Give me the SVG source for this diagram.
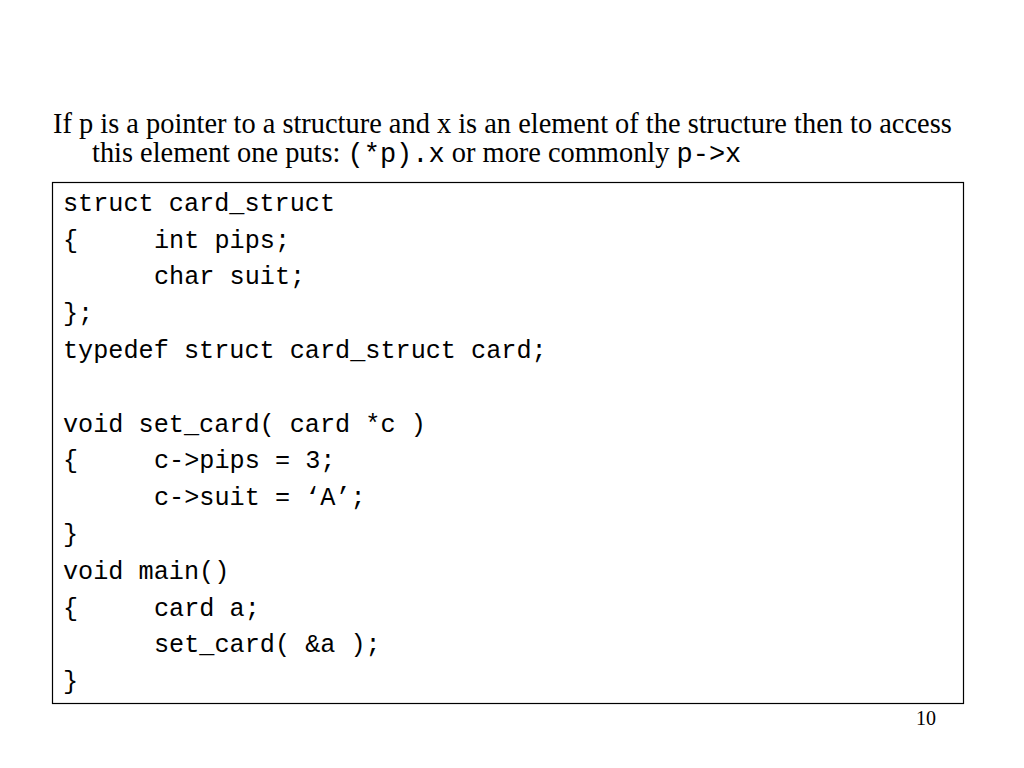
<svg xmlns="http://www.w3.org/2000/svg" width="1024" height="768" viewBox="0 0 1024 768">
<style>
.t{font-family:"Liberation Serif","Times New Roman",serif;font-size:28.4px;fill:#000}
.m{font-family:"Liberation Mono","Courier New",monospace;font-size:27px;fill:#000}
.c{font-family:"Liberation Mono","Courier New",monospace;font-size:25.2px;fill:#000;white-space:pre}
.pn{font-family:"Liberation Serif","Times New Roman",serif;font-size:20px;fill:#000}
</style>
<rect width="1024" height="768" fill="#fff"/>
<g id="heading">
<text class="t" x="53" y="133">If p is a pointer to a structure and x is an element of the structure then to access</text>
<text class="t" x="92" y="162">this element one puts: <tspan class="m">(*p).x</tspan> or more commonly <tspan class="m">p-&gt;x</tspan></text>
</g>
<g id="code-box">
<rect x="52.5" y="182.5" width="911" height="521" fill="none" stroke="#000" stroke-width="1.2"/>
<text class="c" x="63" y="211">struct card_struct</text>
<text class="c" x="63" y="248">{</text>
<text class="c" x="154" y="248">int pips;</text>
<text class="c" x="154" y="284">char suit;</text>
<text class="c" x="63" y="321">};</text>
<text class="c" x="63" y="358">typedef struct card_struct card;</text>
<text class="c" x="63" y="432">void set_card( card *c )</text>
<text class="c" x="63" y="468">{</text>
<text class="c" x="154" y="468">c-&gt;pips = 3;</text>
<text class="c" x="154" y="505">c-&gt;suit = ‘A’;</text>
<text class="c" x="63" y="542">}</text>
<text class="c" x="63" y="579">void main()</text>
<text class="c" x="63" y="616">{</text>
<text class="c" x="154" y="616">card a;</text>
<text class="c" x="154" y="652">set_card( &amp;a );</text>
<text class="c" x="63" y="689">}</text>
</g>
<g id="page-number">
<text class="pn" x="936" y="725" text-anchor="end">10</text>
</g>
</svg>
